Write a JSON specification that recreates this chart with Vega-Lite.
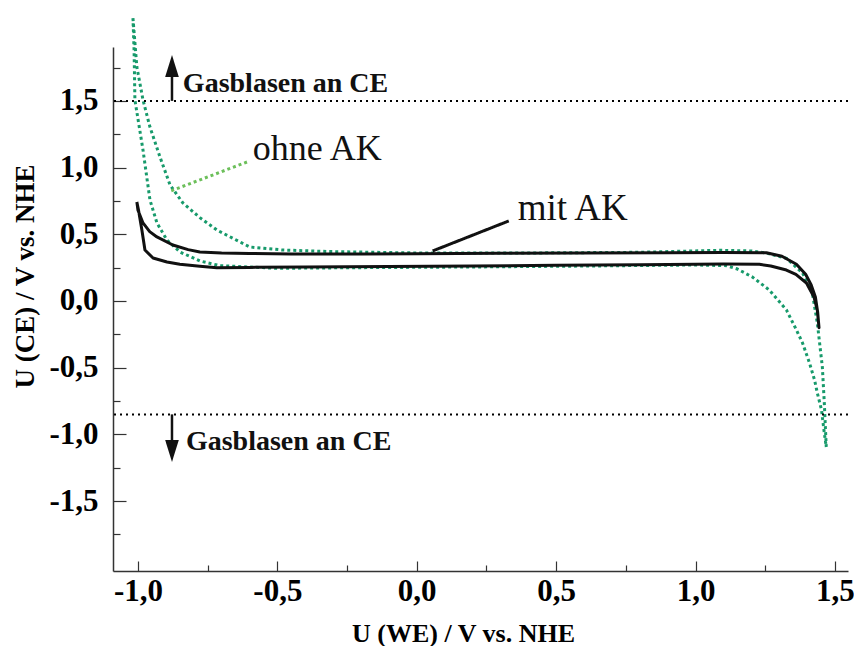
{
  "$schema": "https://vega.github.io/schema/vega-lite/v6.json",
  "width": 735,
  "height": 524,
  "autosize": {"type": "none"},
  "padding": {"left": 113, "top": 47, "right": 6, "bottom": 75},
  "background": "white",
  "config": {
    "view": {"stroke": null},
    "locale": {"number": {"decimal": ",", "thousands": ".", "grouping": [3], "currency": ["", " €"], "minus": "-"}}
  },
  "datasets": {
    "curves": [
      {"series": "mit AK", "i": 1, "x": -1.004, "y": 0.742},
      {"series": "mit AK", "i": 2, "x": -1.0, "y": 0.68},
      {"series": "mit AK", "i": 3, "x": -0.982, "y": 0.585},
      {"series": "mit AK", "i": 4, "x": -0.958, "y": 0.52},
      {"series": "mit AK", "i": 5, "x": -0.932, "y": 0.48},
      {"series": "mit AK", "i": 6, "x": -0.875, "y": 0.42},
      {"series": "mit AK", "i": 7, "x": -0.82, "y": 0.385},
      {"series": "mit AK", "i": 8, "x": -0.778, "y": 0.367},
      {"series": "mit AK", "i": 9, "x": -0.7, "y": 0.36},
      {"series": "mit AK", "i": 10, "x": -0.6, "y": 0.356},
      {"series": "mit AK", "i": 11, "x": -0.45, "y": 0.352},
      {"series": "mit AK", "i": 12, "x": -0.2, "y": 0.352},
      {"series": "mit AK", "i": 13, "x": 0.0, "y": 0.355},
      {"series": "mit AK", "i": 14, "x": 0.3, "y": 0.357},
      {"series": "mit AK", "i": 15, "x": 0.6, "y": 0.36},
      {"series": "mit AK", "i": 16, "x": 0.9, "y": 0.362},
      {"series": "mit AK", "i": 17, "x": 1.1, "y": 0.364},
      {"series": "mit AK", "i": 18, "x": 1.254, "y": 0.362},
      {"series": "mit AK", "i": 19, "x": 1.31, "y": 0.335},
      {"series": "mit AK", "i": 20, "x": 1.362, "y": 0.275},
      {"series": "mit AK", "i": 21, "x": 1.395, "y": 0.2},
      {"series": "mit AK", "i": 22, "x": 1.415, "y": 0.12},
      {"series": "mit AK", "i": 23, "x": 1.43, "y": 0.03},
      {"series": "mit AK", "i": 24, "x": 1.438, "y": -0.08},
      {"series": "mit AK", "i": 25, "x": 1.443, "y": -0.2},
      {"series": "mit AK", "i": 26, "x": 1.437, "y": -0.07},
      {"series": "mit AK", "i": 27, "x": 1.425, "y": 0.03},
      {"series": "mit AK", "i": 28, "x": 1.398, "y": 0.135},
      {"series": "mit AK", "i": 29, "x": 1.36, "y": 0.2},
      {"series": "mit AK", "i": 30, "x": 1.326, "y": 0.232},
      {"series": "mit AK", "i": 31, "x": 1.27, "y": 0.262},
      {"series": "mit AK", "i": 32, "x": 1.229, "y": 0.275},
      {"series": "mit AK", "i": 33, "x": 1.1, "y": 0.278},
      {"series": "mit AK", "i": 34, "x": 0.8, "y": 0.272},
      {"series": "mit AK", "i": 35, "x": 0.5, "y": 0.268},
      {"series": "mit AK", "i": 36, "x": 0.2, "y": 0.262},
      {"series": "mit AK", "i": 37, "x": -0.1, "y": 0.258},
      {"series": "mit AK", "i": 38, "x": -0.4, "y": 0.255},
      {"series": "mit AK", "i": 39, "x": -0.6, "y": 0.252},
      {"series": "mit AK", "i": 40, "x": -0.717, "y": 0.25},
      {"series": "mit AK", "i": 41, "x": -0.778, "y": 0.26},
      {"series": "mit AK", "i": 42, "x": -0.85, "y": 0.275},
      {"series": "mit AK", "i": 43, "x": -0.896, "y": 0.292},
      {"series": "mit AK", "i": 44, "x": -0.946, "y": 0.322},
      {"series": "mit AK", "i": 45, "x": -0.975, "y": 0.382},
      {"series": "mit AK", "i": 46, "x": -0.986, "y": 0.532},
      {"series": "mit AK", "i": 47, "x": -0.998, "y": 0.68},
      {"series": "mit AK", "i": 48, "x": -1.004, "y": 0.742},

      {"series": "ohne AK", "i": 1, "x": -1.018, "y": 2.12},
      {"series": "ohne AK", "i": 2, "x": -1.004, "y": 1.754},
      {"series": "ohne AK", "i": 3, "x": -0.982, "y": 1.507},
      {"series": "ohne AK", "i": 4, "x": -0.957, "y": 1.304},
      {"series": "ohne AK", "i": 5, "x": -0.921, "y": 1.079},
      {"series": "ohne AK", "i": 6, "x": -0.885, "y": 0.87},
      {"series": "ohne AK", "i": 7, "x": -0.839, "y": 0.735},
      {"series": "ohne AK", "i": 8, "x": -0.778, "y": 0.625},
      {"series": "ohne AK", "i": 9, "x": -0.717, "y": 0.532},
      {"series": "ohne AK", "i": 10, "x": -0.599, "y": 0.405},
      {"series": "ohne AK", "i": 11, "x": -0.48, "y": 0.382},
      {"series": "ohne AK", "i": 12, "x": -0.3, "y": 0.37},
      {"series": "ohne AK", "i": 13, "x": 0.0, "y": 0.36},
      {"series": "ohne AK", "i": 14, "x": 0.4, "y": 0.36},
      {"series": "ohne AK", "i": 15, "x": 0.8, "y": 0.365},
      {"series": "ohne AK", "i": 16, "x": 1.086, "y": 0.38},
      {"series": "ohne AK", "i": 17, "x": 1.2, "y": 0.375},
      {"series": "ohne AK", "i": 18, "x": 1.254, "y": 0.36},
      {"series": "ohne AK", "i": 19, "x": 1.326, "y": 0.32},
      {"series": "ohne AK", "i": 20, "x": 1.384, "y": 0.21},
      {"series": "ohne AK", "i": 21, "x": 1.419, "y": 0.06},
      {"series": "ohne AK", "i": 22, "x": 1.437, "y": -0.165},
      {"series": "ohne AK", "i": 23, "x": 1.455, "y": -0.495},
      {"series": "ohne AK", "i": 24, "x": 1.462, "y": -0.765},
      {"series": "ohne AK", "i": 25, "x": 1.469, "y": -1.094},
      {"series": "ohne AK", "i": 26, "x": 1.462, "y": -0.99},
      {"series": "ohne AK", "i": 27, "x": 1.452, "y": -0.817},
      {"series": "ohne AK", "i": 28, "x": 1.437, "y": -0.69},
      {"series": "ohne AK", "i": 29, "x": 1.427, "y": -0.592},
      {"series": "ohne AK", "i": 30, "x": 1.409, "y": -0.465},
      {"series": "ohne AK", "i": 31, "x": 1.384, "y": -0.315},
      {"series": "ohne AK", "i": 32, "x": 1.362, "y": -0.217},
      {"series": "ohne AK", "i": 33, "x": 1.326, "y": -0.067},
      {"series": "ohne AK", "i": 34, "x": 1.265, "y": 0.082},
      {"series": "ohne AK", "i": 35, "x": 1.204, "y": 0.18},
      {"series": "ohne AK", "i": 36, "x": 1.15, "y": 0.24},
      {"series": "ohne AK", "i": 37, "x": 1.111, "y": 0.265},
      {"series": "ohne AK", "i": 38, "x": 1.0, "y": 0.27},
      {"series": "ohne AK", "i": 39, "x": 0.6, "y": 0.262},
      {"series": "ohne AK", "i": 40, "x": 0.2, "y": 0.255},
      {"series": "ohne AK", "i": 41, "x": -0.2, "y": 0.25},
      {"series": "ohne AK", "i": 42, "x": -0.5, "y": 0.245},
      {"series": "ohne AK", "i": 43, "x": -0.706, "y": 0.265},
      {"series": "ohne AK", "i": 44, "x": -0.778, "y": 0.3},
      {"series": "ohne AK", "i": 45, "x": -0.849, "y": 0.367},
      {"series": "ohne AK", "i": 46, "x": -0.896, "y": 0.457},
      {"series": "ohne AK", "i": 47, "x": -0.932, "y": 0.585},
      {"series": "ohne AK", "i": 48, "x": -0.957, "y": 0.757},
      {"series": "ohne AK", "i": 49, "x": -0.982, "y": 1.132},
      {"series": "ohne AK", "i": 50, "x": -1.011, "y": 1.507},
      {"series": "ohne AK", "i": 51, "x": -1.014, "y": 1.88},
      {"series": "ohne AK", "i": 52, "x": -1.018, "y": 2.12}
    ],
    "refs": [{"y": 1.5}, {"y": -0.85}],
    "leaders": [
      {"series": "ohne AK", "x": -0.609, "y": 1.042, "x2": -0.882, "y2": 0.825},
      {"series": "mit AK", "x": 0.33, "y": 0.6, "x2": 0.057, "y2": 0.375}
    ],
    "arrows": [
      {"dir": "up", "x": -0.878, "y": 1.5, "y2": 1.7, "yh": 1.762},
      {"dir": "down", "x": -0.878, "y": -0.85, "y2": -1.07, "yh": -1.124}
    ],
    "labels": [
      {"kind": "gas", "text": "Gasblasen an CE", "x": -0.839, "y": 1.567},
      {"kind": "gas", "text": "Gasblasen an CE", "x": -0.828, "y": -1.117},
      {"kind": "ohne", "text": "ohne AK", "x": -0.588, "y": 1.057},
      {"kind": "mit", "text": "mit AK", "x": 0.362, "y": 0.607}
    ]
  },
  "layer": [
    {
      "data": {"name": "curves"},
      "transform": [{"filter": "datum.series == 'ohne AK'"}],
      "mark": {"type": "line", "color": "#179a6b", "strokeWidth": 3, "strokeDash": [3, 3]},
      "encoding": {
        "x": {"field": "x", "type": "quantitative",
          "scale": {"domain": [-1.0896, 1.547], "nice": false, "zero": false},
          "axis": {
            "values": [-1, -0.75, -0.5, -0.25, 0, 0.25, 0.5, 0.75, 1, 1.25, 1.5],
            "tickCount": 30,
            "format": ".1f",
            "labelOverlap": false,
            "labelOpacity": {"condition": {"test": "abs(datum.value*2 - round(datum.value*2)) < 0.01", "value": 1}, "value": 0},
            "tickSize": {"condition": {"test": "abs(datum.value*2 - round(datum.value*2)) < 0.01", "value": -10}, "value": -6},
            "tickColor": "#333", "tickWidth": 1.2,
            "domainColor": "#333", "domainWidth": 1.5,
            "grid": false,
            "labelFont": "Liberation Serif", "labelFontSize": 31, "labelFontWeight": "bold", "labelColor": "black",
            "labelPadding": 15,
            "title": "U (WE) / V vs. NHE",
            "titleFont": "Liberation Serif", "titleFontSize": 26, "titleFontWeight": "bold", "titleColor": "black",
            "titleX": 350, "titleY": 62, "titleAlign": "center", "titleBaseline": "middle"
          }
        },
        "y": {"field": "y", "type": "quantitative",
          "scale": {"domain": [-2.024, 1.904], "nice": false, "zero": false},
          "axis": {
            "values": [-1.75, -1.5, -1.25, -1, -0.75, -0.5, -0.25, 0, 0.25, 0.5, 0.75, 1, 1.25, 1.5, 1.75],
            "tickCount": 30,
            "format": ".1f",
            "labelOverlap": false,
            "labelOpacity": {"condition": {"test": "abs(datum.value*2 - round(datum.value*2)) < 0.01", "value": 1}, "value": 0},
            "tickSize": {"condition": {"test": "abs(datum.value*2 - round(datum.value*2)) < 0.01", "value": -13}, "value": -7},
            "tickColor": "#333", "tickWidth": 1.2,
            "domainColor": "#333", "domainWidth": 1.5,
            "grid": false,
            "labelFont": "Liberation Serif", "labelFontSize": 31, "labelFontWeight": "bold", "labelColor": "black",
            "labelPadding": 28,
            "title": "U (CE) / V vs. NHE",
            "titleFont": "Liberation Serif", "titleFontSize": 27, "titleFontWeight": "bold", "titleColor": "black",
            "titleX": -88, "titleY": 229, "titleAngle": -90, "titleAlign": "center", "titleBaseline": "middle"
          }
        },
        "order": {"field": "i", "type": "quantitative"}
      }
    },
    {
      "data": {"name": "refs"},
      "mark": {"type": "rule", "color": "black", "strokeWidth": 2, "strokeDash": [2, 4]},
      "encoding": {
        "y": {"field": "y", "type": "quantitative"}
      }
    },
    {
      "data": {"name": "curves"},
      "transform": [{"filter": "datum.series == 'mit AK'"}],
      "mark": {"type": "line", "color": "#111111", "strokeWidth": 3, "strokeJoin": "round"},
      "encoding": {
        "x": {"field": "x", "type": "quantitative"},
        "y": {"field": "y", "type": "quantitative"},
        "order": {"field": "i", "type": "quantitative"}
      }
    },
    {
      "data": {"name": "leaders"},
      "mark": {"type": "rule", "strokeWidth": 3},
      "encoding": {
        "x": {"field": "x", "type": "quantitative"},
        "y": {"field": "y", "type": "quantitative"},
        "x2": {"field": "x2"},
        "y2": {"field": "y2"},
        "color": {"field": "series", "type": "nominal", "scale": {"domain": ["ohne AK", "mit AK"], "range": ["#6cbf5a", "#111111"]}, "legend": null},
        "strokeDash": {"field": "series", "type": "nominal", "scale": {"domain": ["ohne AK", "mit AK"], "range": [[3, 3], [1, 0]]}, "legend": null}
      }
    },
    {
      "data": {"name": "arrows"},
      "mark": {"type": "rule", "color": "#111111", "strokeWidth": 2.5},
      "encoding": {
        "x": {"field": "x", "type": "quantitative"},
        "y": {"field": "y", "type": "quantitative"},
        "y2": {"field": "y2"}
      }
    },
    {
      "data": {"name": "arrows"},
      "mark": {"type": "point", "filled": true, "color": "#111111", "opacity": 1, "size": 484, "strokeWidth": 0},
      "encoding": {
        "x": {"field": "x", "type": "quantitative"},
        "y": {"field": "yh", "type": "quantitative"},
        "shape": {"field": "dir", "type": "nominal", "scale": {"domain": ["up", "down"], "range": ["M0,-1L0.62,1L-0.62,1Z", "M0,1L0.62,-1L-0.62,-1Z"]}, "legend": null}
      }
    },
    {
      "data": {"name": "labels"},
      "transform": [{"filter": "datum.kind == 'gas'"}],
      "mark": {"type": "text", "font": "Liberation Serif", "fontSize": 28, "fontWeight": "bold", "align": "left", "baseline": "alphabetic", "color": "#111111"},
      "encoding": {
        "x": {"field": "x", "type": "quantitative"},
        "y": {"field": "y", "type": "quantitative"},
        "text": {"field": "text"}
      }
    },
    {
      "data": {"name": "labels"},
      "transform": [{"filter": "datum.kind != 'gas'"}],
      "mark": {"type": "text", "font": "Liberation Serif", "align": "left", "baseline": "alphabetic", "color": "#111111"},
      "encoding": {
        "x": {"field": "x", "type": "quantitative"},
        "y": {"field": "y", "type": "quantitative"},
        "text": {"field": "text"},
        "size": {"field": "kind", "type": "nominal", "scale": {"domain": ["ohne", "mit"], "range": [36, 37]}, "legend": null}
      }
    }
  ]
}
